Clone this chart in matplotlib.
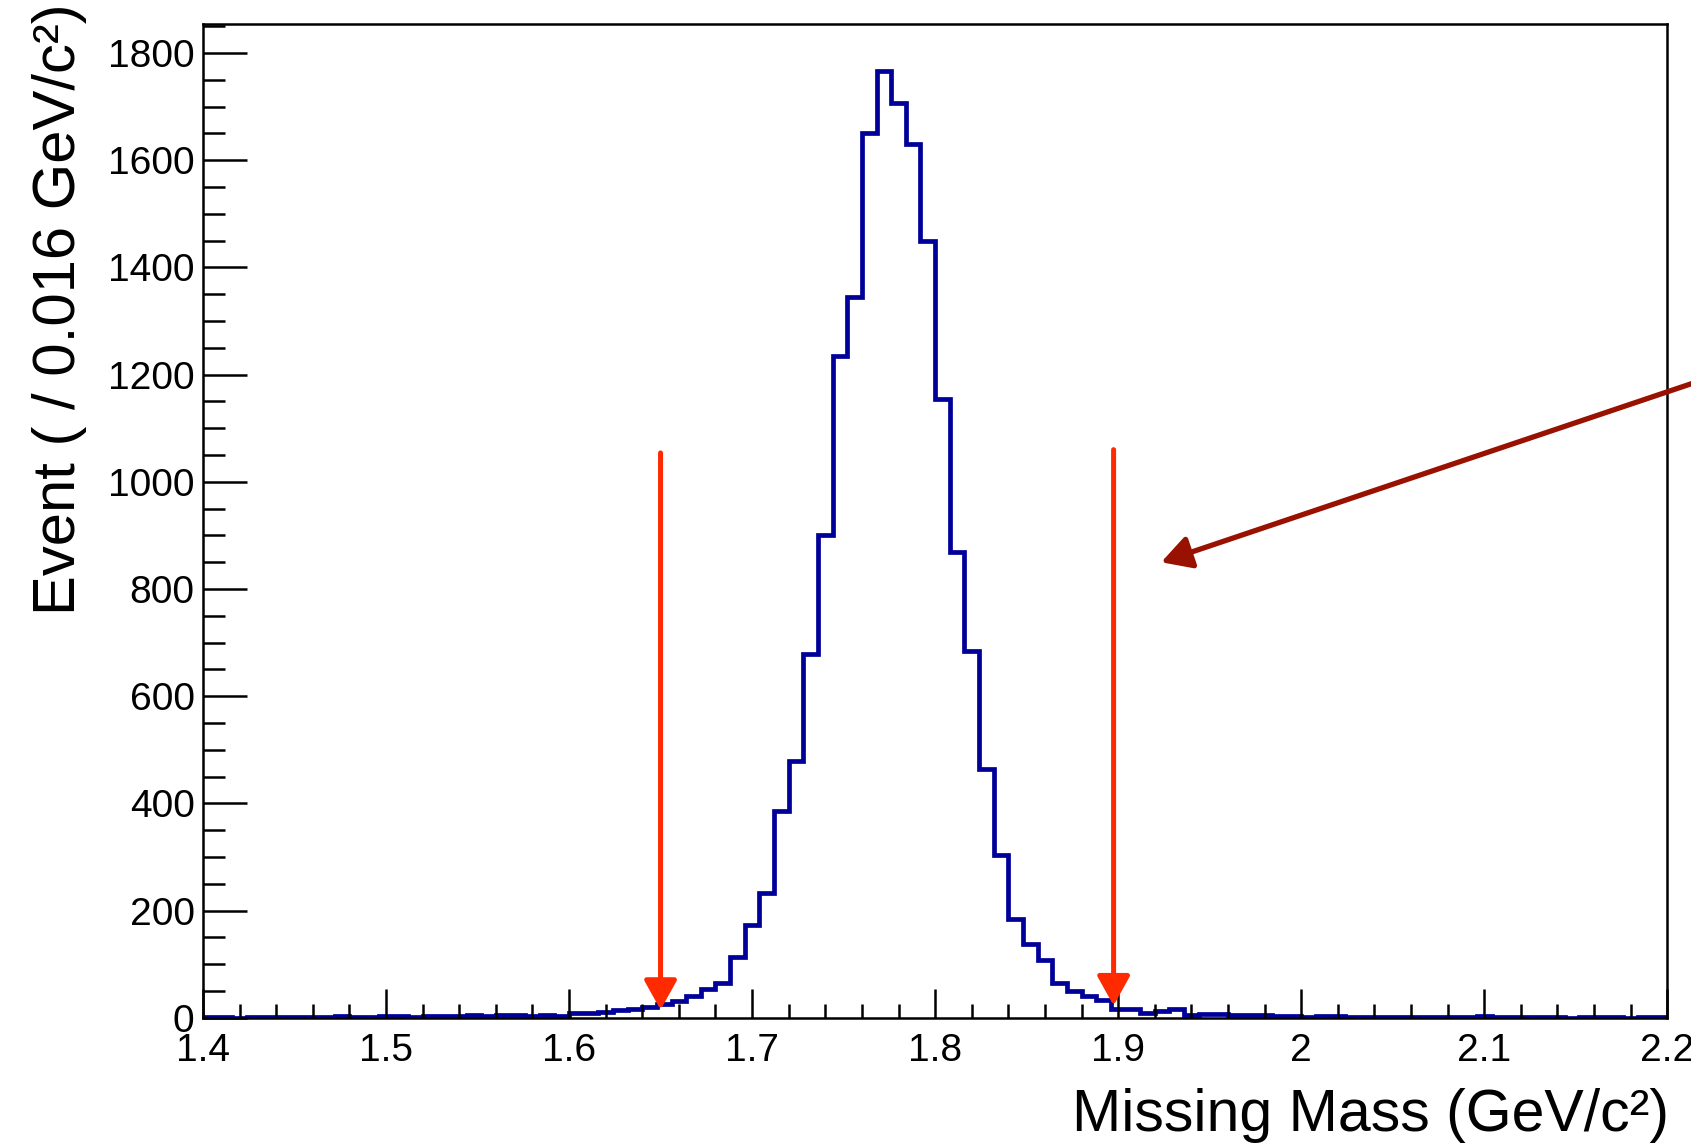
import numpy as np
import matplotlib
matplotlib.use("Agg")
from matplotlib import pyplot as plt
from matplotlib.ticker import MultipleLocator, FixedLocator, FixedFormatter

plt.rcParams["font.family"] = ["Liberation Sans", "DejaVu Sans"]

# Histogram binning: 100 bins between 1.4 and 2.2 GeV/c^2
x_min, x_max, n_bins = 1.4, 2.2, 100

# Counts per bin
counts = [
    1, 1, 0, 1, 1, 2, 2, 2, 2, 3,
    2, 2, 3, 3, 2, 3, 3, 4, 5, 4,
    5, 5, 4, 5, 4, 9, 10, 11, 14, 17,
    21, 26, 32, 40, 54, 65, 113, 173, 233, 386,
    479, 678, 901, 1235, 1345, 1650, 1767, 1706, 1630, 1449,
    1154, 869, 684, 465, 304, 185, 138, 108, 66, 50,
    40, 34, 17, 17, 10, 12, 16, 6, 8, 7,
    5, 5, 6, 3, 3, 2, 3, 3, 2, 2,
    2, 2, 1, 1, 1, 1, 2, 3, 1, 1,
    1, 1, 1, 0, 1, 1, 1, 0, 1, 1,
]

# Selection window markers
cut_low, cut_high = 1.65, 1.8975
cut_top = [1054, 1060]
cut_tip = [15, 23]

# Annotation arrow (start sits outside the frame)
note_start = (2.247, 1222)
note_tip = (1.9235, 850)

x_ticks = [1.4, 1.5, 1.6, 1.7, 1.8, 1.9, 2.0, 2.1, 2.2]
x_tick_labels = ["1.4", "1.5", "1.6", "1.7", "1.8", "1.9", "2", "2.1", "2.2"]
y_ticks = [0, 200, 400, 600, 800, 1000, 1200, 1400, 1600, 1800]

edges = np.linspace(x_min, x_max, n_bins + 1)

fig = plt.figure(figsize=(16.91, 11.45), dpi=100)
ax = fig.add_axes([0.120, 0.111, 0.866, 0.868])

ax.stairs(counts, edges, color="#000099", linewidth=3.4)

# Red cut arrows
arrow_style = "-|>,head_length=0.9,head_width=0.5"
for xc, top, tip in zip([cut_low, cut_high], cut_top, cut_tip):
    ax.annotate(
        "", xy=(xc, tip), xytext=(xc, top),
        arrowprops=dict(arrowstyle=arrow_style, color="#ff2a00", lw=3.6,
                        mutation_scale=20, shrinkA=0, shrinkB=0),
    )

# Dark red pointer arrow coming from the right
ax.annotate(
    "", xy=note_tip, xytext=note_start, annotation_clip=False,
    arrowprops=dict(arrowstyle=arrow_style, color="#991100", lw=3.8,
                    mutation_scale=20, shrinkA=0, shrinkB=0, clip_on=False),
)

ax.set_xlim(x_min, x_max)
ax.set_ylim(0, 1854)

ax.xaxis.set_major_locator(FixedLocator(x_ticks))
ax.xaxis.set_major_formatter(FixedFormatter(x_tick_labels))
ax.xaxis.set_minor_locator(MultipleLocator(0.02))
ax.yaxis.set_major_locator(FixedLocator(y_ticks))
ax.yaxis.set_minor_locator(MultipleLocator(50))

ax.tick_params(axis="both", which="both", direction="in", width=1.8,
               top=False, right=False, labelsize=28, colors="black")
ax.tick_params(axis="x", which="major", length=21, pad=11)
ax.tick_params(axis="x", which="minor", length=10)
ax.tick_params(axis="y", which="major", length=32, pad=6)
ax.tick_params(axis="y", which="minor", length=16)

for side in ax.spines.values():
    side.set_linewidth(1.8)

fig.text(0.035, 0.997, "Event ( / 0.016 GeV/c²)", rotation=90,
         ha="center", va="top", fontsize=43)
fig.text(0.987, 0.012, "Missing Mass (GeV/c²)", ha="right",
         va="baseline", fontsize=42.5)

fig.savefig("out.png", dpi=100)
